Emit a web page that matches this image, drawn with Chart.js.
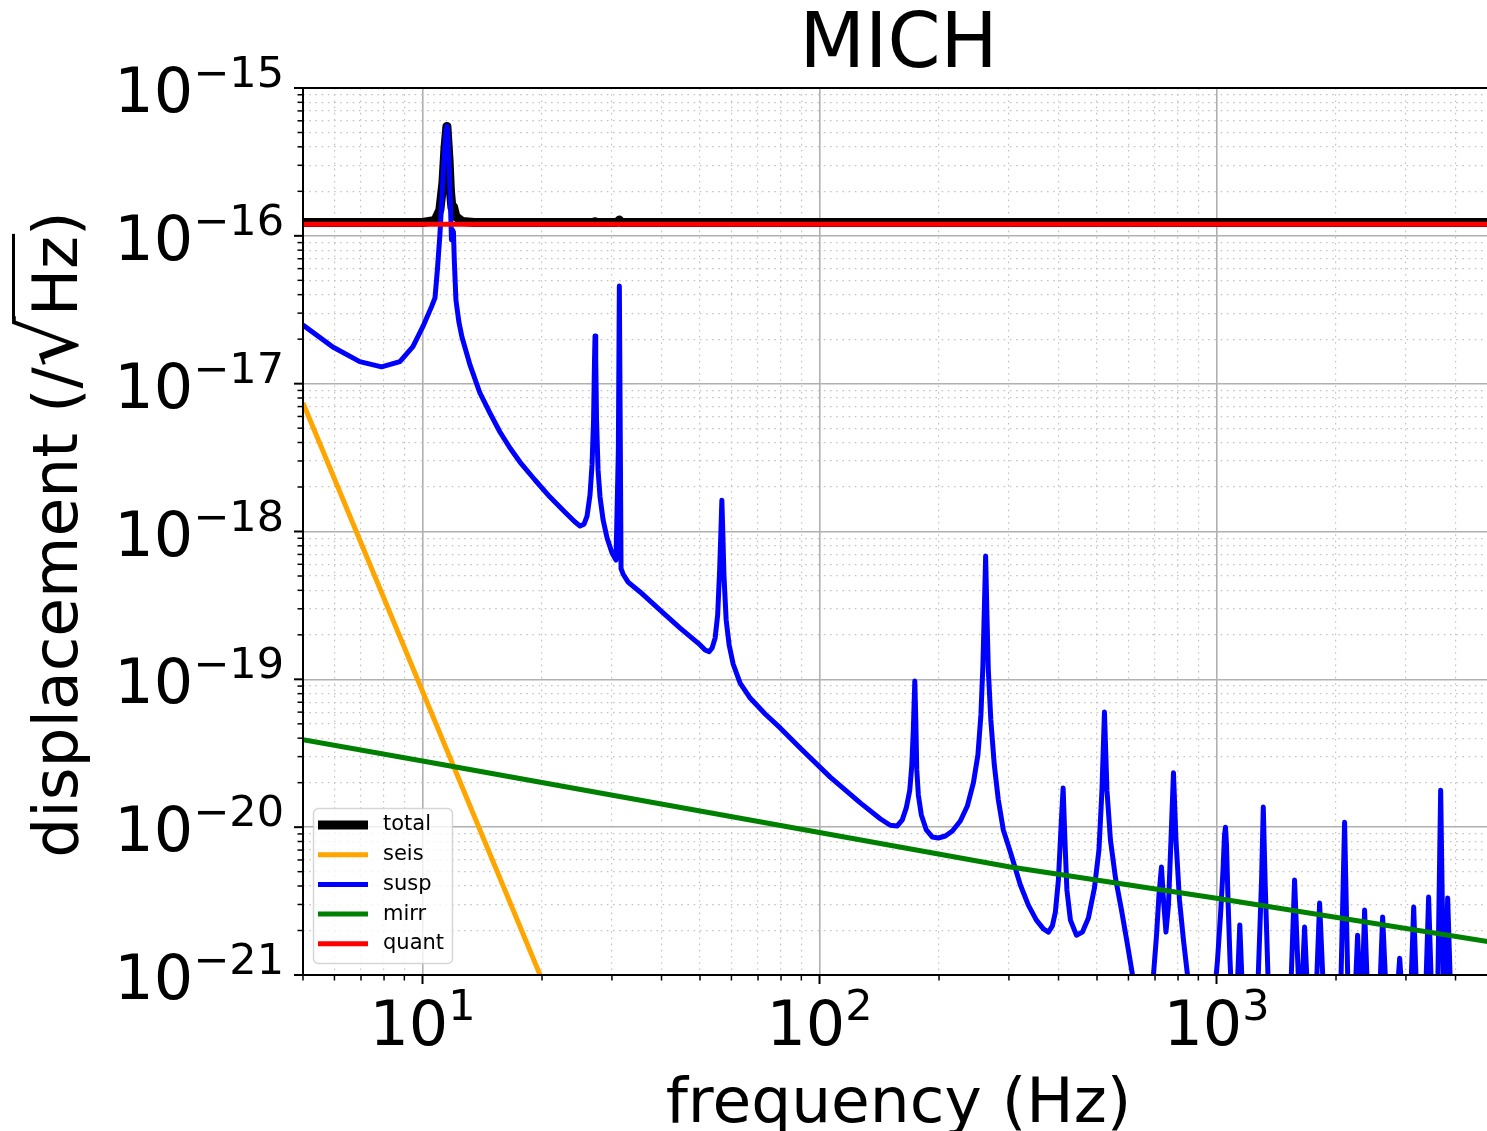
<!DOCTYPE html>
<html>
<head>
<meta charset="utf-8">
<title>MICH</title>
<script src="https://cdn.jsdelivr.net/npm/chart.js@4.4.1/dist/chart.umd.min.js"></script>
<style>
  html, body { margin: 0; padding: 0; background: #fff; overflow: hidden; }
  #wrap { width: 1487px; height: 1131px; overflow: hidden; }
  canvas { display: block; }
</style>
</head>
<body>
<div id="wrap"><canvas id="chart_mich" width="1494" height="1131"></canvas></div>
<script>
// displacement noise budget (Hz, m/rtHz)
const totalFreq = [5, 10.0, 10.75, 11.06, 11.26, 11.39, 11.52, 11.66, 11.76, 11.86, 11.97, 12.14, 12.6, 13.5,
  26.9, 27.2, 27.5, 30.9, 31.32, 31.7, 5000];
const totalAsd = [1.23e-16, 1.23e-16, 1.27e-16, 1.5e-16, 2.3e-16, 3.9e-16, 5.5e-16, 3.3e-16, 2.0e-16, 1.55e-16, 1.57e-16, 1.35e-16, 1.25e-16, 1.23e-16,
  1.23e-16, 1.245e-16, 1.23e-16, 1.23e-16, 1.28e-16, 1.23e-16, 1.23e-16];

const seisFreq = [5, 20];
const seisAsd = [7.4e-18, 9.3e-22];

const suspFreq = [
  5.0, 5.945, 6.95, 7.886, 8.77, 9.459, 10.02, 10.54, 10.75, 10.90,
  11.06, 11.22, 11.36, 11.46, 11.52, 11.59, 11.66, 11.76, 11.83, 11.89,
  11.965, 12.03, 12.14, 12.35, 12.57, 13.17, 13.95, 14.79, 15.67, 16.61,
  17.60, 19.20, 20.95, 22.86, 24.22, 24.93, 25.52, 25.97, 26.42, 26.73,
  26.97, 27.12, 27.20, 27.31, 27.44, 27.68, 28.00, 28.50, 29.17, 30.02,
  30.72, 31.14, 31.32, 31.50, 31.63, 32.00, 32.95, 35.32, 39.67,
  44.56, 50.04, 51.51, 52.72, 53.64, 54.58, 55.39, 56.03, 56.46, 56.76,
  57.05, 57.45, 58.19, 59.21, 60.60, 63.10, 66.88, 72.96, 79.60, 89.39,
  106.4, 126.7, 142.2, 150.7, 157.0, 161.6, 165.4, 168.8, 170.8, 172.3,
  173.8, 174.8, 175.8, 177.4, 180.5, 185.8, 192.4, 199.2, 207.5, 216.1,
  226.3, 235.7, 244.1, 250.6, 255.0, 258.0, 260.1, 262.1, 263.9, 266.2,
  270.1, 275.6, 282.1, 290.4, 302.5, 320.6, 335.8, 351.8, 366.4, 377.2,
  386.0, 392.8, 399.7, 405.5, 410.8, 415.1, 419.9, 428.6, 443.8, 459.4,
  475.7, 492.6, 505.7, 514.6, 522.1, 529.7, 540.6, 556.6, 576.3, 596.8,
  614.3, 625.1, 681.7, 693.7, 706.2, 716.3, 726.7, 735.2, 745.9, 756.8,
  767.9, 779.1, 790.5, 806.7, 825.7, 845.1, 860.0,
  988.5, 1005.8, 1023.5, 1038.5, 1047.5, 1053.6, 1059.8, 1069.0, 1081.5, 1090.9,
  1126, 1144.6, 1163,
  1269, 1298.7, 1311.6, 1325.4, 1352.5,
  1537, 1572.6, 1614,
  1638, 1666.6, 1696,
  1782, 1818.5, 1861,
  2054, 2102, 2145,
  2234, 2266.6, 2300,
  2327, 2360.6, 2402,
  2576, 2621, 2675,
  2851, 2893, 2935,
  3084, 3138, 3192,
  3363, 3422, 3482,
  3606, 3669.5, 3734,
  3767, 3822, 3889,
  5000];
const suspAsd = [
  2.49e-17, 1.77e-17, 1.41e-17, 1.30e-17, 1.41e-17, 1.78e-17, 2.43e-17, 3.32e-17, 3.80e-17, 5.87e-17,
  1.01e-16, 2.04e-16, 3.81e-16, 5.20e-16, 5.53e-16, 5.04e-16, 3.26e-16, 1.62e-16, 9.37e-17, 1.10e-16,
  1.06e-16, 6.65e-17, 3.68e-17, 2.61e-17, 2.07e-17, 1.34e-17, 8.65e-18, 6.33e-18, 4.71e-18, 3.67e-18,
  2.95e-18, 2.23e-18, 1.71e-18, 1.35e-18, 1.16e-18, 1.09e-18, 1.12e-18, 1.27e-18, 1.77e-18, 2.82e-18,
  5.68e-18, 1.45e-17, 2.10e-17, 1.45e-17, 5.68e-18, 2.61e-18, 1.71e-18, 1.20e-18, 9.04e-19, 7.15e-19,
  6.41e-19, 3.56e-18, 4.58e-17, 3.56e-18, 5.6e-19, 5.16e-19, 4.55e-19, 3.90e-19, 2.94e-19,
  2.22e-19, 1.71e-19, 1.58e-19, 1.54e-19, 1.63e-19, 1.90e-19, 2.72e-19, 5.49e-19, 1.02e-18, 1.63e-18,
  1.02e-18, 5.08e-19, 2.52e-19, 1.71e-19, 1.27e-19, 9.44e-20, 7.47e-20, 5.83e-20, 4.69e-20, 3.43e-20,
  2.18e-20, 1.46e-20, 1.14e-20, 1.03e-20, 1.02e-20, 1.12e-20, 1.35e-20, 1.78e-20, 2.63e-20, 4.54e-20,
  9.74e-20, 5.31e-20, 2.44e-20, 1.65e-20, 1.21e-20, 9.57e-21, 8.58e-21, 8.45e-21, 8.71e-21, 9.42e-21,
  1.10e-20, 1.39e-20, 1.99e-20, 3.08e-20, 5.74e-20, 1.25e-19, 2.94e-19, 6.83e-19, 2.94e-19, 1.16e-19,
  5.31e-20, 2.63e-20, 1.53e-20, 9.57e-21, 6.79e-21, 4.06e-21, 2.97e-21, 2.35e-21, 2.05e-21, 1.95e-21,
  2.15e-21, 2.67e-21, 4.39e-21, 9.57e-21, 1.84e-20, 8.18e-21, 3.76e-21, 2.35e-21, 1.86e-21, 1.95e-21,
  2.43e-21, 3.88e-21, 7.00e-21, 1.78e-20, 6.01e-20, 1.78e-20, 8.18e-21, 4.53e-21, 2.75e-21, 1.60e-21,
  1.0e-21, 7.3e-22, 7.3e-22, 1.0e-21, 1.86e-21, 3.48e-21, 5.38e-21, 3.22e-21, 1.95e-21, 2.97e-21,
  8.18e-21, 2.33e-20, 8.18e-21, 3.22e-21, 1.72e-21, 1.0e-21, 7.3e-22,
  7.3e-22, 1.26e-21, 2.54e-21, 5.13e-21, 8.85e-21, 1.0e-20, 7.57e-21, 3.22e-21, 1.26e-21, 7.3e-22,
  7.3e-22, 2.18e-21, 7.3e-22,
  7.3e-22, 4.39e-21, 1.37e-20, 4.39e-21, 7.3e-22,
  7.3e-22, 4.39e-21, 7.3e-22,
  7.3e-22, 2.11e-21, 7.3e-22,
  7.3e-22, 3.07e-21, 7.3e-22,
  7.3e-22, 1.08e-20, 7.3e-22,
  7.3e-22, 1.86e-21, 7.3e-22,
  7.3e-22, 2.75e-21, 7.3e-22,
  7.3e-22, 2.47e-21, 7.3e-22,
  7.3e-22, 1.30e-21, 7.3e-22,
  7.3e-22, 2.88e-21, 7.3e-22,
  7.3e-22, 3.37e-21, 7.3e-22,
  7.3e-22, 1.78e-20, 7.3e-22,
  7.3e-22, 3.32e-21, 7.3e-22,
  7.3e-22];

const mirrFreq = [5, 10, 100, 300, 1000, 5000];
const mirrAsd = [3.9e-20, 2.8e-20, 9.2e-21, 5.4e-21, 3.3e-21, 1.66e-21];

const quantFreq = [5, 5000];
const quantAsd = [1.2e-16, 1.2e-16];

const xTickExp = [1, 2, 3];
const yTickExp = [-21, -20, -19, -18, -17, -16, -15];

const FONT = 'DejaVu Sans';
Chart.defaults.font.family = FONT;

const pairs = (f, a) => f.map((v, i) => ({x: v, y: a[i]}));
const isDecade = v => Math.abs(Math.log10(v) - Math.round(Math.log10(v))) < 1e-6;

function logTicks(lo, hi) {
  const out = [];
  for (let k = Math.floor(Math.log10(lo)); k <= Math.ceil(Math.log10(hi)); k++) {
    for (let m = 1; m <= 9; m++) {
      const v = m * Math.pow(10, k);
      if (v >= lo * 0.999 && v <= hi * 1.001) out.push({value: v});
    }
  }
  return out;
}

const gridColor = c => (c.tick && isDecade(c.tick.value)) ? '#b0b0b0' : '#c4c4c4';
const gridWidth = c => (c.tick && isDecade(c.tick.value)) ? 1.6 : 1.2;
const gridDash = c => (c.tick && !isDecade(c.tick.value)) ? [1.6, 4.6] : [];

function drawPow(ctx, exp, x, y, align) {
  // "10" with a raised exponent, like matplotlib's mathtext tick labels
  const base = '10', sup = String(exp).replace('-', '\u2212');
  ctx.font = '62px "' + FONT + '"';
  const wb = ctx.measureText(base).width;
  ctx.font = '43px "' + FONT + '"';
  const ws = ctx.measureText(sup).width;
  let x0 = align === 'right' ? x - wb - ws : x - (wb + ws) / 2;
  ctx.font = '62px "' + FONT + '"';
  ctx.fillText(base, x0, y);
  ctx.font = '43px "' + FONT + '"';
  ctx.fillText(sup, x0 + wb, y - 25);
}

function drawYLabel(ctx, cx, cy) {
  const f = '63px "' + FONT + '"', fr = '80px "' + FONT + '"';
  ctx.save();
  ctx.translate(cx, cy);
  ctx.rotate(-Math.PI / 2);
  ctx.fillStyle = '#000';
  ctx.textAlign = 'left';
  ctx.textBaseline = 'alphabetic';
  ctx.font = f;
  const w1 = ctx.measureText('displacement (/').width;
  const w2 = ctx.measureText('Hz').width;
  const w3 = ctx.measureText(')').width;
  ctx.font = fr;
  const mr = ctx.measureText('\u221A');
  const wr = mr.width;
  let p = -(w1 + wr + w2 + w3) / 2;
  ctx.font = f;
  ctx.fillText('displacement (/', p, 0);
  p += w1;
  ctx.font = fr;
  ctx.fillText('\u221A', p, 0);
  const top = -mr.actualBoundingBoxAscent;
  p += wr;
  ctx.font = f;
  ctx.fillText('Hz', p, 0);
  ctx.strokeStyle = '#000';
  ctx.lineWidth = 3;
  ctx.beginPath();
  ctx.moveTo(p - 3, top + 1.5);
  ctx.lineTo(p + w2 + 2, top + 1.5);
  ctx.stroke();
  p += w2;
  ctx.fillText(')', p, 0);
  ctx.restore();
}

const michDecor = {
  id: 'michDecor',
  afterDraw(chart) {
    const {ctx, chartArea: a} = chart;
    const sx = chart.scales.x, sy = chart.scales.y;
    ctx.save();
    ctx.strokeStyle = '#000';
    ctx.lineCap = 'butt';

    // tick marks, outward
    sx.ticks.forEach(t => {
      const px = sx.getPixelForValue(t.value), major = isDecade(t.value);
      ctx.lineWidth = major ? 2 : 1.5;
      ctx.beginPath(); ctx.moveTo(px, a.bottom); ctx.lineTo(px, a.bottom + (major ? 9 : 5.5)); ctx.stroke();
    });
    sy.ticks.forEach(t => {
      const py = sy.getPixelForValue(t.value), major = isDecade(t.value);
      ctx.lineWidth = major ? 2 : 1.5;
      ctx.beginPath(); ctx.moveTo(a.left, py); ctx.lineTo(a.left - (major ? 9 : 5.5), py); ctx.stroke();
    });

    // spines
    ctx.lineWidth = 2;
    ctx.strokeRect(a.left, a.top, a.right - a.left, a.bottom - a.top);

    // tick labels
    ctx.fillStyle = '#000';
    ctx.textAlign = 'left';
    ctx.textBaseline = 'alphabetic';
    xTickExp.forEach(e => drawPow(ctx, e, sx.getPixelForValue(Math.pow(10, e)), a.bottom + 70, 'center'));
    yTickExp.forEach(e => drawPow(ctx, e, a.left - 19, sy.getPixelForValue(Math.pow(10, e)) + 24, 'right'));

    drawYLabel(ctx, 77, (a.top + a.bottom) / 2 + 3);

    // legend, lower left inside the axes
    const lx = a.left + 10, ly = a.bottom - 167, lw = 139, lh = 155;
    ctx.beginPath();
    ctx.roundRect(lx + 0.5, ly + 0.5, lw, lh, 5);
    ctx.fillStyle = 'rgba(255,255,255,0.8)';
    ctx.fill();
    ctx.strokeStyle = 'rgba(204,204,204,0.8)';
    ctx.lineWidth = 1.5;
    ctx.stroke();
    ctx.font = '21px "' + FONT + '"';
    ctx.textBaseline = 'middle';
    chart.data.datasets.forEach((ds, i) => {
      const ry = ly + 17 + i * 29.7;
      ctx.strokeStyle = ds.borderColor;
      ctx.lineWidth = ds.borderWidth;
      ctx.beginPath(); ctx.moveTo(lx + 5, ry); ctx.lineTo(lx + 55, ry); ctx.stroke();
      ctx.fillStyle = '#000';
      ctx.fillText(ds.label, lx + 70, ry);
    });
    ctx.restore();
  }
};

const chart_mich = new Chart(document.getElementById('chart_mich'), {
  type: 'line',
  data: {
    datasets: [
      { label: 'total', data: pairs(totalFreq, totalAsd), borderColor: '#000000', borderWidth: 9, order: 5 },
      { label: 'seis', data: pairs(seisFreq, seisAsd), borderColor: '#ffa500', borderWidth: 5, order: 4 },
      { label: 'susp', data: pairs(suspFreq, suspAsd), borderColor: '#0000ff', borderWidth: 5, order: 3 },
      { label: 'mirr', data: pairs(mirrFreq, mirrAsd), borderColor: '#008000', borderWidth: 5, order: 2 },
      { label: 'quant', data: pairs(quantFreq, quantAsd), borderColor: '#ff0000', borderWidth: 5, order: 1 }
    ]
  },
  options: {
    animation: false,
    responsive: false,
    events: [],
    layout: { padding: 0 },
    datasets: {
      line: { pointRadius: 0, tension: 0, fill: false, borderJoinStyle: 'round', clip: 0 }
    },
    plugins: {
      legend: { display: false },
      tooltip: { enabled: false },
      title: {
        display: true,
        text: 'MICH',
        color: '#000',
        fullSize: false,
        font: { family: FONT, size: 76, weight: 'normal', lineHeight: 1 },
        padding: { top: 9, bottom: 3 }
      }
    },
    scales: {
      x: {
        type: 'logarithmic',
        position: 'bottom',
        min: 5,
        max: 5000,
        afterBuildTicks: s => { s.ticks = logTicks(5, 5000); },
        afterFit: s => { s.height = 156; },
        ticks: { display: false },
        grid: { color: gridColor, lineWidth: gridWidth, drawTicks: false },
        border: { display: false, dash: gridDash },
        title: {
          display: true,
          text: 'frequency (Hz)',
          color: '#000',
          font: { family: FONT, size: 63, lineHeight: 0.6 },
          padding: { top: 0, bottom: 6 }
        }
      },
      y: {
        type: 'logarithmic',
        position: 'left',
        min: 1e-21,
        max: 1e-15,
        afterBuildTicks: s => { s.ticks = logTicks(1e-21, 1e-15); },
        afterFit: s => { s.width = 303; },
        ticks: { display: false },
        grid: { color: gridColor, lineWidth: gridWidth, drawTicks: false },
        border: { display: false, dash: gridDash },
        title: { display: false }
      }
    }
  },
  plugins: [michDecor]
});
</script>
</body>
</html>
